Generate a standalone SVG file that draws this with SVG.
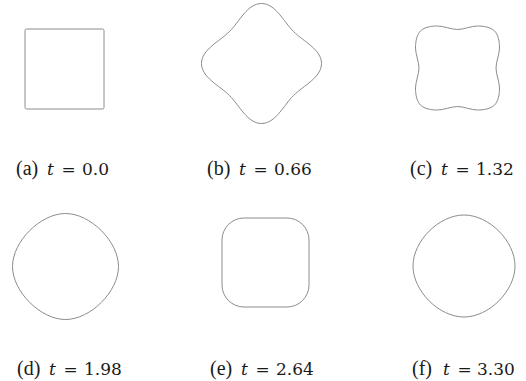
<svg xmlns="http://www.w3.org/2000/svg" width="526" height="381" viewBox="0 0 526 381">
<style>
.shape{fill:none;stroke:#8c8c8c;stroke-width:1}
.lbl{font-family:"Liberation Serif","Times New Roman",serif;font-size:20px;fill:#1a1a1a}
.m{font-family:"DejaVu Serif","Liberation Serif",serif;font-size:17px}
.it{font-style:italic}
</style>
<rect width="526" height="381" fill="#fff"/>
<g id="panel-a">
<rect class="shape" x="25" y="29" width="79" height="80" rx="1.5"/>
<text class="lbl" y="175"><tspan x="16">(a)</tspan><tspan class="m it" x="47">t</tspan><tspan class="m" x="61.5">=</tspan><tspan class="m" x="82">0.0</tspan></text>
</g>
<g id="panel-b">
<path class="shape" transform="translate(261.5,63.5)" d="M0,-60 C-14,-60 -22,-42 -32,-32 C-42,-22 -60,-14 -60,0 C-60,14 -42,22 -32,32 C-22,42 -14,60 0,60 C14,60 22,42 32,32 C42,22 60,14 60,0 C60,-14 42,-22 32,-32 C22,-42 14,-60 0,-60 Z"/>
<text class="lbl" y="175"><tspan x="207">(b)</tspan><tspan class="m it" x="239">t</tspan><tspan class="m" x="253.5">=</tspan><tspan class="m" x="274">0.66</tspan></text>
</g>
<g id="panel-c">
<path class="shape" transform="translate(457.5,68)" d="M-37,-37 C-33,-41 -26,-42 -20,-42 C-14,-42 -6,-38.5 0,-38.5 C6,-38.5 14,-42 20,-42 C26,-42 33,-41 37,-37 C41,-33 42,-26 42,-20 C42,-14 38.5,-6 38.5,0 C38.5,6 42,14 42,20 C42,26 41,33 37,37 C33,41 26,42 20,42 C14,42 6,38.5 0,38.5 C-6,38.5 -14,42 -20,42 C-26,42 -33,41 -37,37 C-41,33 -42,26 -42,20 C-42,14 -38.5,6 -38.5,0 C-38.5,-6 -42,-14 -42,-20 C-42,-26 -41,-33 -37,-37 Z"/>
<text class="lbl" y="175"><tspan x="410">(c)</tspan><tspan class="m it" x="441">t</tspan><tspan class="m" x="455.5">=</tspan><tspan class="m" x="476">1.32</tspan></text>
</g>
<g id="panel-d">
<path class="shape" transform="translate(65.5,266.5)" d="M0,-53 C-25,-53 -53,-25 -53,0 C-53,25 -25,53 0,53 C25,53 53,25 53,0 C53,-25 25,-53 0,-53 Z"/>
<text class="lbl" y="375"><tspan x="17">(d)</tspan><tspan class="m it" x="49">t</tspan><tspan class="m" x="63.5">=</tspan><tspan class="m" x="84">1.98</tspan></text>
</g>
<g id="panel-e">
<rect class="shape" x="222" y="218" width="87" height="89" rx="22"/>
<text class="lbl" y="375"><tspan x="210">(e)</tspan><tspan class="m it" x="241">t</tspan><tspan class="m" x="255.5">=</tspan><tspan class="m" x="276">2.64</tspan></text>
</g>
<g id="panel-f">
<path class="shape" transform="translate(464,266)" d="M0,-51 C-25,-51 -51,-25 -51,0 C-51,25 -25,51 0,51 C25,51 51,25 51,0 C51,-25 25,-51 0,-51 Z"/>
<text class="lbl" y="375"><tspan x="412">(f)</tspan><tspan class="m it" x="443">t</tspan><tspan class="m" x="457.5">=</tspan><tspan class="m" x="477">3.30</tspan></text>
</g>
<g id="connectors"/>
</svg>
